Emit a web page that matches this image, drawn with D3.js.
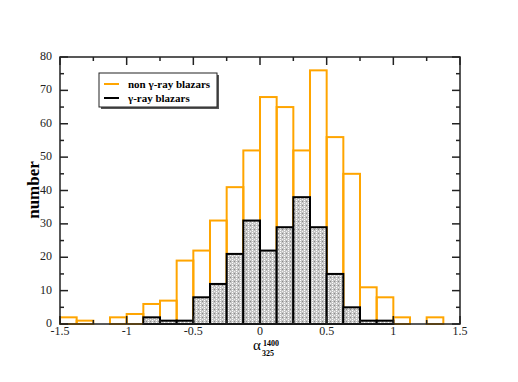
<!DOCTYPE html>
<html><head><meta charset="utf-8">
<script src="https://cdn.jsdelivr.net/npm/d3@7"></script>
<style>body{margin:0;background:#fff}svg{display:block}</style>
</head><body><svg id="c" width="518" height="382"></svg>
<script>
const binStarts = [-1.5,-1.375,-1.25,-1.125,-1,-0.875,-0.75,-0.625,-0.5,-0.375,-0.25,-0.125,0,0.125,0.25,0.375,0.5,0.625,0.75,0.875,1,1.125,1.25,1.375];
const binWidth = 0.125;
const nonGamma = [2,1,0,2,3,6,7,19,22,31,41,52,68,65,52,76,56,45,11,8,2,0,2,0];
const gamma    = [0,0,0,0,0,2,1,1,8,12,21,31,22,29,38,29,15,5,1,1,0,0,0,0];
const xMajor = [-1.5,-1,-0.5,0,0.5,1,1.5];
const xMajorLabels = ["-1.5","-1","-0.5","0","0.5","1","1.5"];
const xMinor = [-1.25,-0.75,-0.25,0.25,0.75,1.25];
const yMajor = [0,10,20,30,40,50,60,70,80];
const yMinor = [5,15,25,35,45,55,65,75];
const legendLabels = ["non \u03b3-ray blazars","\u03b3-ray blazars"];
const colors = ["#ffa500","#000000"];
const FONT = "'Liberation Serif', 'Times New Roman', 'DejaVu Serif', serif";

const svg = d3.select("#c").attr("font-family", FONT);
const L=60,R=460,T=57,B=324;
const x = d3.scaleLinear().domain([-1.5,1.5]).range([L,R]);
const y = d3.scaleLinear().domain([0,80]).range([B,T]);

const defs = svg.append("defs");
const pat = defs.append("pattern").attr("id","hatch").attr("patternUnits","userSpaceOnUse").attr("width",4).attr("height",4);
pat.append("rect").attr("width",4).attr("height",4).attr("fill","#c4c4c4");
pat.append("rect").attr("x",0).attr("y",0).attr("width",1).attr("height",1).attr("fill","#fff");
pat.append("rect").attr("x",0).attr("y",2).attr("width",1).attr("height",1).attr("fill","#fff");
pat.append("rect").attr("x",2).attr("y",1).attr("width",1).attr("height",1).attr("fill","#8a8a8a");
pat.append("rect").attr("x",2).attr("y",3).attr("width",1).attr("height",1).attr("fill","#f0f0f0");

svg.append("g").selectAll("rect").data(binStarts.map((b,i)=>({b,v:nonGamma[i]})).filter(d=>d.v>0))
  .join("rect")
  .attr("x",d=>x(d.b)).attr("width",d=>x(d.b+binWidth)-x(d.b))
  .attr("y",d=>y(d.v)).attr("height",d=>y(0)-y(d.v))
  .attr("fill","none").attr("stroke",colors[0]).attr("stroke-width",2);
svg.append("g").selectAll("rect").data(binStarts.map((b,i)=>({b,v:gamma[i]})).filter(d=>d.v>0))
  .join("rect")
  .attr("x",d=>x(d.b)).attr("width",d=>x(d.b+binWidth)-x(d.b))
  .attr("y",d=>y(d.v)).attr("height",d=>y(0)-y(d.v))
  .attr("fill","url(#hatch)").attr("stroke",colors[1]).attr("stroke-width",2);

const ax = svg.append("g").attr("stroke","#222").attr("stroke-width",1.5);
ax.append("rect").attr("x",L).attr("y",T).attr("width",R-L).attr("height",B-T).attr("fill","none");
xMajor.forEach(v=>{ax.append("line").attr("x1",x(v)).attr("x2",x(v)).attr("y1",B).attr("y2",B-8);
  ax.append("line").attr("x1",x(v)).attr("x2",x(v)).attr("y1",T).attr("y2",T+8);});
xMinor.forEach(v=>{ax.append("line").attr("x1",x(v)).attr("x2",x(v)).attr("y1",B).attr("y2",B-4);
  ax.append("line").attr("x1",x(v)).attr("x2",x(v)).attr("y1",T).attr("y2",T+4);});
yMajor.forEach(v=>{ax.append("line").attr("x1",L).attr("x2",L+8).attr("y1",y(v)).attr("y2",y(v));
  ax.append("line").attr("x1",R).attr("x2",R-8).attr("y1",y(v)).attr("y2",y(v));});
yMinor.forEach(v=>{ax.append("line").attr("x1",L).attr("x2",L+4).attr("y1",y(v)).attr("y2",y(v));
  ax.append("line").attr("x1",R).attr("x2",R-4).attr("y1",y(v)).attr("y2",y(v));});

xMajor.forEach((v,i)=>svg.append("text").attr("x",x(v)).attr("y",B+11).attr("text-anchor","middle")
  .attr("font-size",12).attr("fill","#222").text(xMajorLabels[i]));
yMajor.forEach(v=>svg.append("text").attr("x",L-8).attr("y",y(v)+3).attr("text-anchor","end")
  .attr("font-size",12).attr("fill","#222").text(v));

svg.append("text").attr("transform","translate(39,190) rotate(-90)").attr("text-anchor","middle")
  .attr("font-size",17).attr("font-weight","bold").text("number");

svg.append("text").attr("x",253).attr("y",350).attr("font-size",15).text("\u03b1");
svg.append("text").attr("x",263).attr("y",346).attr("font-size",8).attr("font-weight","bold").text("1400");
svg.append("text").attr("x",262).attr("y",356).attr("font-size",8).attr("font-weight","bold").text("325");

const lg = svg.append("g");
lg.append("rect").attr("x",101).attr("y",75).attr("width",118).attr("height",34).attr("fill","#555");
lg.append("rect").attr("x",99).attr("y",73).attr("width",118).attr("height",34).attr("fill","#fff").attr("stroke","#222").attr("stroke-width",1);
legendLabels.forEach((t,i)=>{
  lg.append("line").attr("x1",104).attr("x2",119).attr("y1",84+i*14).attr("y2",84+i*14).attr("stroke",colors[i]).attr("stroke-width",2);
  lg.append("text").attr("x",128).attr("y",88+i*14).attr("font-size",11).attr("font-weight","bold").text(t);
});
</script></body></html>
